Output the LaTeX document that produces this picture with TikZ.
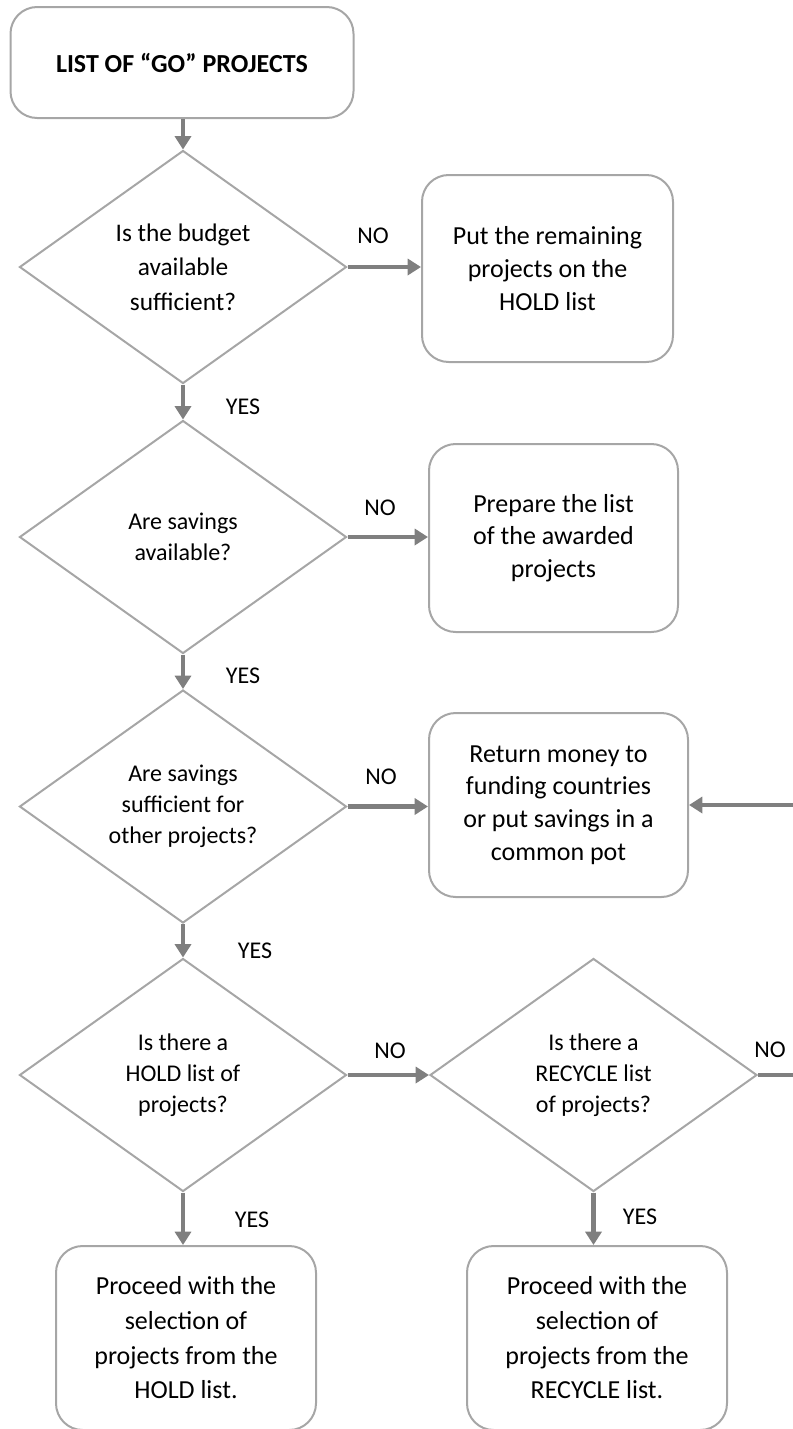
\documentclass[tikz,border=0pt]{standalone}
\usepackage{fontspec}
\setmainfont{Carlito}
\usetikzlibrary{shapes.geometric,arrows.meta}
\definecolor{edgegray}{HTML}{A6A6A6}
\definecolor{flowgray}{HTML}{7F7F7F}
\tikzset{
  procbox/.style={draw=edgegray, line width=1.5pt, rounded corners=20pt,
    align=center, inner sep=0pt, font=\fontsize{19.5}{24.5}\selectfont},
  decision/.style={draw=edgegray, line width=1.5pt, diamond, align=center,
    inner sep=0pt, minimum width=245.25pt, minimum height=174.75pt,
    font=\fontsize{18}{23.3}\selectfont},
  flowarrow/.style={draw=flowgray, line width=3.5pt,
    -{Triangle[width=12pt,length=10pt]}},
  flowline/.style={draw=flowgray, line width=3.5pt},
  answer/.style={font=\fontsize{18}{20}\selectfont, inner sep=0pt},
}
\begin{document}
\begin{tikzpicture}[x=0.75pt,y=-0.75pt]
\useasboundingbox (0,0) rectangle (793,1429);

% start box
\node[procbox, minimum width=257.25pt, minimum height=83.25pt,
  font=\bfseries\fontsize{19.5}{24.5}\selectfont] (top) at (182,62.5)
  {LIST OF “GO” PROJECTS};

% decisions, left column
\node[decision, font=\fontsize{19}{26}\selectfont] (d1) at (183,267)
  {Is the budget\\available\\sufficient?};
\node[decision] (d2) at (183,537) {Are savings\\available?};
\node[decision] (d3) at (183,806.5) {Are savings\\sufficient for\\other projects?};
\node[decision] (d4) at (183,1075) {Is there a\\HOLD list of\\projects?};
% decision, right column
\node[decision] (d5) at (593.5,1075) {Is there a\\RECYCLE list\\of projects?};

% outcome boxes
\node[procbox, minimum width=188.25pt, minimum height=140.25pt] (hold) at (547.5,268.5)
  {Put the remaining\\projects on the\\HOLD list};
\node[procbox, minimum width=186.75pt, minimum height=141pt] (prep) at (553.5,538)
  {Prepare the list\\of the awarded\\projects};
\node[procbox, minimum width=194.25pt, minimum height=138pt] (ret) at (558.5,805)
  {Return money to\\funding countries\\or put savings in a\\common pot};
\node[procbox, minimum width=195pt, minimum height=138pt,
  font=\fontsize{19.5}{26}\selectfont] (ph) at (186,1338)
  {Proceed with the\\selection of\\projects from the\\HOLD list.};
\node[procbox, minimum width=195pt, minimum height=138pt,
  font=\fontsize{19.5}{26}\selectfont] (pr) at (597,1338)
  {Proceed with the\\selection of\\projects from the\\RECYCLE list.};

% loose ends of the loop back to the savings box
\coordinate (loopA) at (793,1075);
\coordinate (loopB) at (793,805);

% connectors
\draw[flowarrow] (d1.north |- top.south) -- (d1.north);
\draw[flowarrow] (d1.east) -- (d1.east -| hold.west);
\draw[flowarrow] (d1.south) -- (d2.north);
\draw[flowarrow] (d2.east) -- (d2.east -| prep.west);
\draw[flowarrow] (d2.south) -- (d3.north);
\draw[flowarrow] (d3.east) -- (d3.east -| ret.west);
\draw[flowarrow] (d3.south) -- (d4.north);
\draw[flowarrow] (d4.east) -- (d5.west);
\draw[flowline]  (d5.east) -- (loopA);
\draw[flowarrow] (loopB) -- (ret.east);
\draw[flowarrow] (d4.south) -- (d4.south |- ph.north);
\draw[flowarrow] (d5.south) -- (d5.south |- pr.north);

% answer labels
\node[answer] (no1)  at (373,236)  {NO};
\node[answer] (yes1) at (243,407)  {YES};
\node[answer] (no2)  at (380,508)  {NO};
\node[answer] (yes2) at (243,676)  {YES};
\node[answer] (no3)  at (381,777)  {NO};
\node[answer] (yes3) at (255,951)  {YES};
\node[answer] (no4)  at (390,1051) {NO};
\node[answer] (no5)  at (770,1050) {NO};
\node[answer] (yes4) at (252,1220) {YES};
\node[answer] (yes5) at (640,1217) {YES};
\end{tikzpicture}
\end{document}
